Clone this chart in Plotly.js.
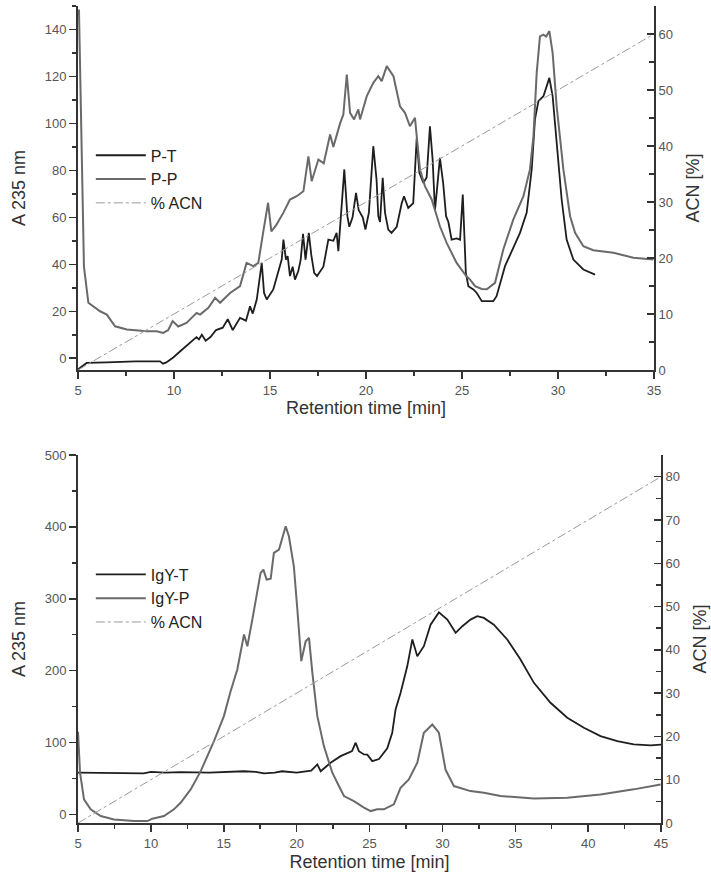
<!DOCTYPE html>
<html>
<head>
<meta charset="utf-8">
<script src="https://cdn.plot.ly/plotly-3.0.1.min.js"></script>
<style>html,body{margin:0;padding:0;background:#fff;}#chart{width:711px;height:886px;}</style>
</head>
<body>
<div id="chart"></div>
<script>
// ---------- Top chart (P-T / P-P) ----------
const ptTime = [5.0,5.45,6.5,8,9.27,9.43,9.6,9.96,10.4,10.74,11.17,11.3,11.45,11.65,11.9,12.19,12.54,12.8,13.06,13.44,13.75,13.96,14.1,14.31,14.48,14.57,14.69,14.83,15.17,15.43,15.61,15.7,15.83,15.92,16.04,16.18,16.3,16.47,16.6,16.72,16.85,17.02,17.15,17.3,17.45,17.78,18.04,18.3,18.47,18.56,18.73,18.87,19.03,19.13,19.3,19.48,19.62,19.83,19.97,20.15,20.38,20.55,20.64,20.73,20.87,20.99,21.16,21.33,21.6,21.86,21.98,22.2,22.46,22.64,22.78,22.99,23.16,23.33,23.47,23.59,23.71,23.85,24.02,24.17,24.29,24.46,24.72,24.9,25.04,25.1,25.2,25.33,25.59,25.77,26.03,26.63,26.8,27.24,28.02,28.37,28.63,28.8,28.98,29.24,29.55,29.72,29.93,30.19,30.45,30.8,31.32,31.93];
const ptAbs = [-4.8,-2,-1.8,-1.3,-1.3,-2.3,-1.8,0.3,3.5,6,9,8,10,7.5,9,12,13,16.6,12,17.2,16,22.1,19,25,36.4,40.6,27.8,25,29.3,36.4,42,50.5,42,43.5,35,39,33.5,37,42,53,42,53.4,44,36.4,35,39,50.5,50,53.4,45.6,66,80.4,60.5,56,60,70.4,63,60,54.8,62,90.3,76,60.5,58,76.8,62,54.8,53.4,56,66,69,64,66,93.5,79,74.7,77,98.8,84.6,63,73,85.3,74.5,60.5,58,50.5,51,50.5,69.7,56,36.4,30.7,29.3,27.8,24.3,24.3,26.4,39.2,53.4,62,80.4,101.7,109.5,111.6,119.4,111.6,90.3,67.6,50.5,42,37.8,35.6];

const ppTime = [5.05,5.1,5.19,5.31,5.54,6.15,6.5,6.93,7.54,8.58,9.1,9.44,9.7,9.93,10.22,10.65,11.18,11.36,11.79,12.14,12.4,12.92,13.44,13.78,14.13,14.39,14.64,14.9,15.07,15.33,15.7,16.04,16.39,16.74,17.0,17.17,17.52,17.8,18.13,18.3,18.65,18.82,19.0,19.17,19.38,19.6,19.69,20.04,20.38,20.64,20.82,21.08,21.43,21.77,22.03,22.29,22.55,22.67,22.81,23.07,23.42,23.85,24.2,24.72,25.23,25.42,25.68,26.03,26.29,26.72,27.15,27.67,28.2,28.54,28.72,28.89,29.06,29.24,29.38,29.55,29.72,29.93,30.28,30.63,30.89,31.32,31.84,32.89,33.93,34.97];
const ppAbs = [148.5,124,81.8,39,23.6,20,18.6,13.6,12.2,11.5,11.5,10.8,12,15.8,13.5,15,19.3,18.6,21.5,25.7,23.6,27.8,30.7,40.6,39.2,40.6,53.4,66.2,54,56.8,62,67.6,69,71.1,86,75.4,84.6,83,95.3,90,100,103.8,120.8,104.5,101.7,106,101.7,111.6,117.3,120.1,118,124.4,120.1,107.3,104.5,98.8,102.4,93,80.4,73.3,67.6,56.2,49.1,40.6,34.9,33.5,30.7,29.5,29.4,32.1,46.3,59,69,80.4,94.5,121.5,137.1,137.8,137,139.3,130,107.3,80.4,60.5,53.4,47.7,46,44.9,42.8,42];

const acnTopTime = [5, 35];
const acnTopPct = [0, 60];

// ---------- Bottom chart (IgY-T / IgY-P) ----------
const igtTime = [5,7,9.5,10,11,12.04,14,16.39,17.2,17.76,18.5,19.0,19.36,20,21,21.42,21.65,22,22.33,23.02,23.48,23.8,24.05,24.27,24.62,24.85,25.19,25.65,26.22,26.56,26.79,27.13,27.59,27.94,28.28,28.73,29.19,29.76,30.34,30.91,31.37,31.93,32.39,32.85,33.53,34.45,35.36,36.28,37.42,38.57,39.71,40.85,42.0,43.13,44.28,45];
const igtAbs = [58,58,57,59,58,58.8,58,60,59,57,58,60,59,58,61,69.5,60,66,71.9,81,85.8,88,99.7,88,83.4,83,74.1,77,92,113.6,146,169,206,243.3,220,234,264,281,271,252.6,261.8,271,275.7,273.4,264,243.3,215.5,183,155.3,134.4,120.5,108.9,101.9,97.3,96,97];

const igpTime = [5.0,5.14,5.41,5.87,6.56,7.47,8.84,9.76,10.1,10.9,11.58,12.04,12.73,13.42,14.33,15.01,15.47,15.93,16.39,16.62,16.96,17.3,17.53,17.72,17.94,18.22,18.44,18.79,18.9,19.25,19.47,19.81,20.05,20.32,20.62,20.85,21.08,21.42,21.87,22.45,22.9,23.25,23.93,24.62,25.08,25.53,25.99,26.67,27.13,27.7,28.28,28.73,29.31,29.76,30.22,30.79,31.93,32.85,33.99,36.28,38.57,40.85,43.13,44.97];
const igpAbs = [115,58,20.8,7,-2.3,-7,-9.3,-9.3,-6,-2.3,7,16.2,34.8,60.2,102,136.7,171.4,201.6,250.2,234,271,312.8,336,340.6,326.7,328,363.8,368.4,375.4,400.8,386.9,345.2,285,213.2,241,245.6,197,136.7,95,58,39.4,25.5,18.5,9.3,4.6,7,7,14,37,48.7,72,113.6,125,113.6,62,39.4,32.4,30.2,25.5,22.2,23.2,27.8,34.8,41.7];

const acnBotTime = [5, 45];
const acnBotPct = [0, 80];

const names = {top: ['P-T', 'P-P', '% ACN'], bottom: ['IgY-T', 'IgY-P', '% ACN']};

const BLACK = '#1e1e1e', GRAY = '#6a6a6a', ACN = '#9a9a9a';
const FONT = 'Liberation Sans, Arial, sans-serif';

const traces = [
  {x: ptTime, y: ptAbs, name: names.top[0], xaxis: 'x', yaxis: 'y', mode: 'lines', line: {color: BLACK, width: 1.8}, legend: 'legend'},
  {x: ppTime, y: ppAbs, name: names.top[1], xaxis: 'x', yaxis: 'y', mode: 'lines', line: {color: GRAY, width: 2}, legend: 'legend'},
  {x: acnTopTime, y: acnTopPct, name: names.top[2], xaxis: 'x', yaxis: 'y2', mode: 'lines', line: {color: ACN, width: 1, dash: 'dashdot'}, legend: 'legend'},
  {x: igtTime, y: igtAbs, name: names.bottom[0], xaxis: 'x2', yaxis: 'y3', mode: 'lines', line: {color: BLACK, width: 1.8}, legend: 'legend2'},
  {x: igpTime, y: igpAbs, name: names.bottom[1], xaxis: 'x2', yaxis: 'y3', mode: 'lines', line: {color: GRAY, width: 2}, legend: 'legend2'},
  {x: acnBotTime, y: acnBotPct, name: names.bottom[2], xaxis: 'x2', yaxis: 'y4', mode: 'lines', line: {color: ACN, width: 1, dash: 'dashdot'}, legend: 'legend2'}
];

const TITLEFONT = {family: FONT, size: 18, color: '#333'};
const axCommon = {
  showline: true, linecolor: '#333', linewidth: 2, mirror: false,
  showgrid: false, zeroline: false,
  ticks: 'outside', ticklen: 7, tickwidth: 1.5, tickcolor: '#333',
  tickfont: {family: FONT, size: 13, color: '#555'}
};
function ax(extra) { return Object.assign(JSON.parse(JSON.stringify(axCommon)), extra); }

const layout = {
  width: 711, height: 886,
  margin: {l: 78, r: 50, t: 6, b: 63},
  paper_bgcolor: '#fff', plot_bgcolor: '#fff',
  font: {family: FONT},
  showlegend: true,
  xaxis: ax({domain: [0, 0.988], anchor: 'y', range: [5, 35], dtick: 5, tick0: 5,
    minor: {dtick: 2.5, ticklen: 4, tickcolor: '#333', ticks: 'outside'},
    title: {text: 'Retention time [min]', standoff: 2, font: TITLEFONT}}),
  yaxis: ax({domain: [0.5545, 1], anchor: 'x', range: [-5, 150], dtick: 20, tick0: 0,
    minor: {dtick: 10, ticklen: 4, tickcolor: '#333', ticks: 'outside'},
    title: {text: 'A 235 nm', standoff: 14, font: TITLEFONT}}),
  yaxis2: ax({overlaying: 'y', anchor: 'x', side: 'right', range: [0, 65], dtick: 10, tick0: 0,
    ticks: 'inside', minor: {dtick: 5, ticklen: 5, tickcolor: '#333', ticks: 'inside'},
    title: {text: 'ACN [%]', standoff: 14, font: TITLEFONT}}),
  xaxis2: ax({domain: [0, 1], anchor: 'y3', range: [5, 45], dtick: 5, tick0: 5,
    minor: {dtick: 2.5, ticklen: 4, tickcolor: '#333', ticks: 'outside'},
    title: {text: 'Retention time [min]', standoff: 6, font: TITLEFONT}}),
  yaxis3: ax({domain: [0, 0.4504], anchor: 'x2', range: [-12, 500], dtick: 100, tick0: 0,
    minor: {dtick: 50, ticklen: 4, tickcolor: '#333', ticks: 'outside'},
    title: {text: 'A 235 nm', standoff: 14, font: TITLEFONT}}),
  yaxis4: ax({overlaying: 'y3', anchor: 'x2', side: 'right', range: [0, 85], dtick: 10, tick0: 0,
    ticks: 'inside', minor: {dtick: 5, ticklen: 5, tickcolor: '#333', ticks: 'inside'},
    title: {text: 'ACN [%]', standoff: 14, font: TITLEFONT}}),
  legend: {x: 0.022, y: 0.838, xanchor: 'left', yanchor: 'top', bgcolor: 'rgba(0,0,0,0)',
    font: {family: FONT, size: 16, color: '#222'}, itemwidth: 50, tracegroupgap: 0},
  legend2: {x: 0.022, y: 0.325, xanchor: 'left', yanchor: 'top', bgcolor: 'rgba(0,0,0,0)',
    font: {family: FONT, size: 16, color: '#222'}, itemwidth: 50, tracegroupgap: 0}
};

Plotly.newPlot('chart', traces, layout, {displayModeBar: false, staticPlot: true});
</script>
</body>
</html>
